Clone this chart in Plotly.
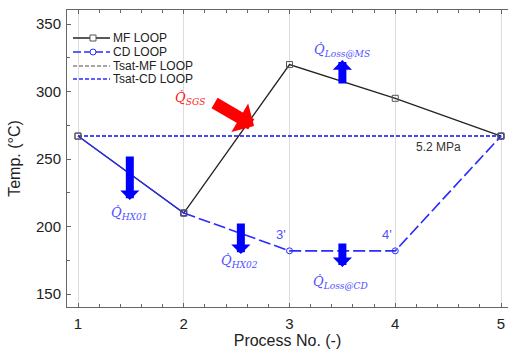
import plotly.graph_objects as go

# ---- data ----
process_no = [1, 2, 3, 4, 5]
mf_loop = [267, 210, 320, 295, 267]
cd_x = [2, 3, 4, 5]
cd_loop = [210, 182, 182, 267]
seg_x = [1, 2]
seg_y = [267, 210]
tsat_x = [1, 5]
tsat_mf = [267, 267]
tsat_cd = [267, 267]
x_ticks = [1, 2, 3, 4, 5]
y_ticks = [150, 200, 250, 300, 350]
legend_names = ["MF LOOP", "CD LOOP", "Tsat-MF LOOP", "Tsat-CD LOOP"]

BLUE = "#2b2bff"
LBLUE = "#5050ff"
GREYM = "#555555"
FONT = "Liberation Sans, Arial, sans-serif"
SERIF = "DejaVu Serif, Liberation Serif, serif"

W, H = 508, 349
ML, MR, MT, MB = 67, 0, 10, 42
PW, PH = W - ML - MR, H - MT - MB


def PX(px):
    return (px - ML) / PW


def PY(py):
    return 1 - (py - MT) / PH


fig = go.Figure()

fig.add_trace(go.Scatter(
    x=tsat_x, y=tsat_mf, mode="lines", name=legend_names[2], showlegend=False,
    line=dict(color="#888888", width=1.5, dash="4px,2px")))
fig.add_trace(go.Scatter(
    x=tsat_x, y=tsat_cd, mode="lines", name=legend_names[3], showlegend=False,
    line=dict(color=BLUE, width=1.5, dash="4px,2px")))
fig.add_trace(go.Scatter(
    x=process_no, y=mf_loop, mode="lines+markers", name=legend_names[0], showlegend=False,
    line=dict(color="#222222", width=1.3),
    marker=dict(symbol="square-open", size=6, color=GREYM, line=dict(width=1))))
fig.add_trace(go.Scatter(
    x=cd_x, y=cd_loop, mode="lines+markers", name=legend_names[1], showlegend=False,
    line=dict(color=BLUE, width=1.6, dash="12px,4px"),
    marker=dict(symbol="circle-open", size=6, color=BLUE, line=dict(width=1))))
fig.add_trace(go.Scatter(
    x=seg_x, y=seg_y, mode="lines", showlegend=False,
    line=dict(color=BLUE, width=1.2)))
fig.add_trace(go.Scatter(
    x=[process_no[0], process_no[1], process_no[4]], y=[mf_loop[0], mf_loop[1], mf_loop[4]],
    mode="markers", showlegend=False,
    marker=dict(symbol="square-open", size=6, color=GREYM, line=dict(width=1))))

# ---- compact legend (drawn manually) ----
leg_rows = [38, 52, 66, 79]
leg_styles = [
    dict(color="#222222", width=1.3, dash="solid"),
    dict(color=BLUE, width=1.6, dash="8px,3px"),
    dict(color="#888888", width=1.3, dash="4px,2px"),
    dict(color=BLUE, width=1.3, dash="4px,2px"),
]
for i, (name, row, st) in enumerate(zip(legend_names, leg_rows, leg_styles)):
    fig.add_shape(type="line", xref="paper", yref="paper",
                  x0=PX(73), x1=PX(110), y0=PY(row), y1=PY(row), line=st)
    if i < 2:
        fig.add_shape(type="rect" if i == 0 else "circle", xref="paper", yref="paper",
                      xsizemode="pixel", ysizemode="pixel",
                      xanchor=PX(93), yanchor=PY(row), x0=-3, x1=3, y0=-3, y1=3,
                      fillcolor="white",
                      line=dict(color=GREYM if i == 0 else BLUE, width=1))
    fig.add_annotation(x=PX(111), y=PY(row), xref="paper", yref="paper",
                       xanchor="left", yanchor="middle", showarrow=False, text=name,
                       font=dict(family=FONT, size=12, color="#222222"))

# ---- arrows ----
def arrow(x, y, ax, ay, color, width, size):
    fig.add_annotation(x=x, y=y, ax=ax, ay=ay, xref="x", yref="y",
                       showarrow=True, arrowhead=1, arrowsize=size,
                       arrowwidth=width, arrowcolor=color, standoff=0, text="")

arrow(1.49, 219.6, 0, -45, "#0000ff", 8, 0.4)
arrow(2.54, 179.6, 0, -32, "#0000ff", 8, 0.4)
arrow(3.5, 170.0, 0, -25, "#0000ff", 8, 0.4)
arrow(3.5, 323.3, 0, 25, "#0000ff", 8, 0.4)
arrow(2.665, 274.4, -41, -24, "#ff0000", 12, 0.46)

# ---- labels ----
def qlabel(x, y, sub, color):
    fig.add_annotation(x=x, y=y, xref="x", yref="y", showarrow=False,
                       text=f"<i>Q\u0307</i><sub><i>{sub}</i></sub>",
                       font=dict(family=SERIF, size=13, color=color))

qlabel(1.49, 210.0, "HX01", LBLUE)
qlabel(2.53, 174.4, "HX02", LBLUE)
qlabel(3.49, 158.9, "Loss@CD", LBLUE)
qlabel(3.50, 330.7, "Loss@MS", LBLUE)
qlabel(2.06, 294.5, "SGS", "#ff2020")

for xx, t in [(2.92, "3'"), (3.92, "4'")]:
    fig.add_annotation(x=xx, y=194.4, text=t, showarrow=False,
                       font=dict(family=FONT, size=13, color=LBLUE))
fig.add_annotation(x=4.41, y=258.9, text="5.2 MPa", showarrow=False,
                   font=dict(family=FONT, size=12, color="#333333"))

fig.update_layout(
    width=W, height=H,
    margin=dict(l=ML, r=MR, t=MT, b=MB, autoexpand=False),
    paper_bgcolor="white", plot_bgcolor="white",
    font=dict(family=FONT, size=15, color="#222222"),
    showlegend=False,
    xaxis=dict(
        range=[0.896, 5.066], tickvals=x_ticks, ticktext=[str(v) for v in x_ticks],
        showgrid=True, gridcolor="#dddddd", gridwidth=1, zeroline=False,
        showline=True, linecolor="#666666", linewidth=1, mirror="ticks",
        ticks="inside", ticklen=4, tickcolor="#666666", ticklabelstandoff=3,
        minor=dict(dtick=0.2, tick0=1, ticks="inside", ticklen=3, tickcolor="#666666", showgrid=False),
        title=dict(text="Process No. (-)", font=dict(size=16), standoff=6),
        tickfont=dict(size=15), automargin=False),
    yaxis=dict(
        range=[140.4, 360.4], tickvals=y_ticks, ticktext=[str(v) for v in y_ticks],
        showgrid=False, zeroline=False,
        showline=True, linecolor="#666666", linewidth=1, mirror=False,
        ticks="inside", ticklen=4, tickcolor="#666666", ticklabelstandoff=2,
        minor=dict(dtick=25, tick0=150, ticks="inside", ticklen=3, tickcolor="#666666"),
        title=dict(text="Temp. (°C)", font=dict(size=16), standoff=11),
        tickfont=dict(size=15), automargin=False),
)

fig.write_html("out.html", config={"displayModeBar": False},
               post_script="document.body.style.margin='0px';")
